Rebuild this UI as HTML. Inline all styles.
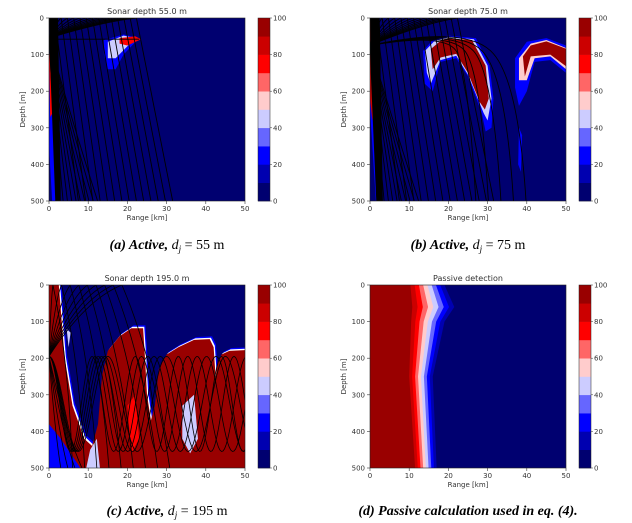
<!DOCTYPE html>
<html><head><meta charset="utf-8"><style>
body{margin:0;background:#fff;width:632px;height:523px;overflow:hidden}
svg{display:block}
text{font-family:"DejaVu Sans","Liberation Sans",sans-serif;fill:#333}
.cap{font-family:"Liberation Serif",serif;font-size:14px;fill:#000}
</style></head><body>
<svg id="s" width="632" height="523" xmlns="http://www.w3.org/2000/svg"></svg>
<script>
(function(){
const C=['#000070','#0000b0','#0000ff','#6666ff','#ccccff','#ffcccc','#ff6666','#ff0000','#cc0000','#990000'];
const S=document.getElementById('s');let out='';
function P(pts){return pts.map(p=>p[0]+','+p[1]).join(' ');}
function panel(ox,oy,title,inner,id){
  const W=196,H=183;
  let g=`<text x="${ox+W/2}" y="${oy-4}" font-size="8" text-anchor="middle">${title}</text>`;
  g+=`<clipPath id="c${id}"><rect x="${ox}" y="${oy}" width="${W}" height="${H}"/></clipPath>`;
  g+=`<g clip-path="url(#c${id})"><svg x="${ox}" y="${oy}" width="${W}" height="${H}" viewBox="0 0 50 500" preserveAspectRatio="none"><rect width="50" height="500" fill="${C[0]}"/>${inner}</svg></g>`;
  g+=`<rect x="${ox}" y="${oy}" width="${W}" height="${H}" fill="none" stroke="#222" stroke-width="0.6"/>`;
  for(let i=0;i<=5;i++){const y=oy+H*i/5;g+=`<line x1="${ox-3}" x2="${ox}" y1="${y}" y2="${y}" stroke="#333" stroke-width="0.6"/><text x="${ox-5}" y="${y+2.5}" font-size="7" text-anchor="end">${i*100}</text>`;
    const x=ox+W*i/5;g+=`<line x1="${x}" x2="${x}" y1="${oy+H}" y2="${oy+H+3}" stroke="#333" stroke-width="0.6"/><text x="${x}" y="${oy+H+10}" font-size="7" text-anchor="middle">${i*10}</text>`;}
  g+=`<text x="${ox+W/2}" y="${oy+H+19}" font-size="7" text-anchor="middle">Range [km]</text>`;
  g+=`<text transform="translate(${ox-24},${oy+H/2}) rotate(-90)" font-size="7" text-anchor="middle">Depth [m]</text>`;
  const cx=ox+209,cw=12;
  for(let k=0;k<10;k++){g+=`<rect x="${cx}" y="${oy+H-(k+1)*H/10}" width="${cw}" height="${H/10+0.3}" fill="${C[k]}"/>`;}
  g+=`<rect x="${cx}" y="${oy}" width="${cw}" height="${H}" fill="none" stroke="#222" stroke-width="0.5"/>`;
  for(let k=0;k<=5;k++){const y=oy+H-k*H/5;g+=`<line x1="${cx+cw}" x2="${cx+cw+2}" y1="${y}" y2="${y}" stroke="#333" stroke-width="0.5"/><text x="${cx+cw+3}" y="${y+2.5}" font-size="7">${k*20}</text>`;}
  out+=g;
}
const L='fill="none" stroke="#000" stroke-width="0.9" vector-effect="non-scaling-stroke"';
function raysA(src){let r='';
  for(let i=0;i<14;i++){const a=1.5+i*1.6,b=a+6+i*0.25;r+=`<path d="M0,${src} Q${a*0.6},${src*0.2} ${a},0 Q${a+ (b-a)*0.25},${120} ${b},500" ${L}/>`;}
  for(let i=0;i<10;i++){const b=2.5+i*1.1;r+=`<path d="M0,${src} Q${b*0.4},${250} ${b},500" ${L}/>`;}
  return r;}
// Panel a
let A=`<polygon points="0,150 1,120 2.8,500 0.8,500 0,350" fill="#0000ff"/><polygon points="0,100 0.8,80 1.5,250 0.3,270" fill="#ff0000"/>`;
A+=`<polygon points="14,60 19,45 23,55 19,100 17,140 15,140 14,100" fill="#0000ff"/><polygon points="15,65 19,48 22,55 17,110 15,110" fill="#ccccff"/><polygon points="18,55 22,50 23.5,58 20,75 18,70" fill="#ff0000"/>`;
A+=`<polygon points="0,0 2.3,0 3,500 1.6,500 0.2,100" fill="#000"/>`;
A+=raysA(55)+`<line x1="0" y1="58" x2="23" y2="58" ${L}/>`;
panel(49,18,'Sonar depth 55.0 m',A,'a');
// Panel b
let B=`<polygon points="0,0 2.5,0 3.3,500 1.5,500 0,250" fill="#0000ff"/><polygon points="0,0 2.2,0 2,150 0.6,280 0,220" fill="#cc0000"/>`;
B+=`<polygon points="13.5,90 16,60 20,48 27,55 30.5,130 31.5,220 31,300 29.5,310 28.5,260 25,160 22,110 18,120 16,200 14,180" fill="#0000ff"/>`;
B+=`<polygon points="14,90 16.5,62 20,52 26.5,58 30,130 31,220 30,280 29,260 25,155 22,103 18,115 15.5,180 14.5,150" fill="#ccccff"/>`;
B+=`<polygon points="15.5,85 18,62 20,56 26,60 29.5,130 30.3,220 29.3,250 28,230 25,150 22,98 18,108 16,140" fill="#990000"/>`;
B+=`<polygon points="37,110 40,65 45,55 50,75 50,150 46,115 42,120 40,200 38,240 37,190" fill="#0000ff"/><polygon points="38,110 41,70 45,60 50,82 50,140 46,105 42,110 40,170 38,170" fill="#ffcccc"/><polygon points="39,105 41,75 45,64 50,84 50,132 46,100 41,105 39.5,160" fill="#990000"/>`;
B+=`<polygon points="38,300 38.8,320 38.5,420 37.8,400" fill="#0000ff"/>`;
B+=`<polygon points="0,0 2.5,0 3.3,500 1.6,500 0.2,150" fill="#000"/>`;
B+=raysA(75);
for(let i=0;i<5;i++){const s=19+i*1.2;B+=`<path d="M0,75 Q${s},${40-i*5} ${s+3+i},${90} T${s+8+i*2},500" ${L}/>`;}
panel(370,18,'Sonar depth 75.0 m',B,'b');
// Panel c
const topc=[[0,0],[2.5,0],[4,200],[6,330],[9,420],[11,440],[12.5,380],[13.5,250],[15,180],[18,140],[21,118],[24,118],[24.5,200],[25,300],[26,370],[27,330],[28,230],[30,190],[33,170],[37,150],[41,148],[42,170],[42.5,250],[43,215],[44,190],[46,180],[50,178]];
const botc=[[50,500],[0,500],[0,380]];
let Cc=`<polygon points="${P(topc.map(p=>[p[0]+0.6,p[1]-8]).concat(botc))}" fill="#0000ff"/>`;
Cc+=`<polygon points="${P(topc.map(p=>[p[0]+0.3,p[1]-4]).concat(botc))}" fill="#ffffff"/>`;
Cc+=`<polygon points="${P(topc.concat(botc))}" fill="#990000"/>`;
Cc+=`<polygon points="0,380 3,420 8,500 0,500" fill="#0000ff"/><polygon points="9.5,500 10.5,450 12.2,420 13,500" fill="#ccccff"/>`;
Cc+=`<polygon points="34,330 37,300 38,420 36,460 34,420" fill="#ccccff"/><polygon points="20,330 22,300 23,420 21,460" fill="#ff0000"/>`;
Cc+=`<polygon points="4.5,120 5.5,130 5,170" fill="#ccccff"/>`;
const Lc='fill="none" stroke="#000" stroke-width="0.8" vector-effect="non-scaling-stroke"';
for(let i=0;i<6;i++){const per=11+i*0.8;let d='';for(let x=0;x<=50;x+=0.4){const y=325-130*Math.cos(2*Math.PI*x/per);d+=(x?'L':'M')+x.toFixed(1)+','+y.toFixed(1);}Cc+=`<path d="${d}" ${Lc}/>`;}
for(let i=0;i<9;i++){const a=1+i*2.2;Cc+=`<path d="M0,195 Q${a*0.5},40 ${a},0 Q${a+4+i*0.5},200 ${a+5+i*0.9},500" ${Lc}/>`;}
for(let i=0;i<4;i++){const b=3+i*1.8;Cc+=`<path d="M0,195 Q${b*0.5},400 ${b},500" ${Lc}/>`;}
panel(49,285,'Sonar depth 195.0 m',Cc,'c');
// Panel d
const ys=[0,60,100,250,500],lft=[10.3,10.8,10.5,10,11.5],rt=[19,21.5,19,16,17];
let D='';
for(let k=9;k>=1;k--){const t=(9-k)/8;let pts=[[0,0]];for(let j=0;j<5;j++){pts.push([(rt[j]+(lft[j]-rt[j])*t).toFixed(2),ys[j]]);}pts.push([0,500]);D+=`<polygon points="${P(pts)}" fill="${C[10-k]}"/>`;}
panel(370,285,'Passive detection',D,'d');
out+=`<text class="cap" x="167" y="249" text-anchor="middle"><tspan font-weight="bold" font-style="italic">(a) Active,</tspan> <tspan font-style="italic">d</tspan><tspan font-style="italic" font-size="9" dy="3">j</tspan><tspan dy="-3"> = 55 m</tspan></text>`;
out+=`<text class="cap" x="468" y="249" text-anchor="middle"><tspan font-weight="bold" font-style="italic">(b) Active,</tspan> <tspan font-style="italic">d</tspan><tspan font-style="italic" font-size="9" dy="3">j</tspan><tspan dy="-3"> = 75 m</tspan></text>`;
out+=`<text class="cap" x="167" y="515" text-anchor="middle"><tspan font-weight="bold" font-style="italic">(c) Active,</tspan> <tspan font-style="italic">d</tspan><tspan font-style="italic" font-size="9" dy="3">j</tspan><tspan dy="-3"> = 195 m</tspan></text>`;
out+=`<text class="cap" x="468" y="515" text-anchor="middle" font-weight="bold" font-style="italic">(d) Passive calculation used in eq. (4).</text>`;
S.innerHTML=out;
})();
</script>
</body></html>
